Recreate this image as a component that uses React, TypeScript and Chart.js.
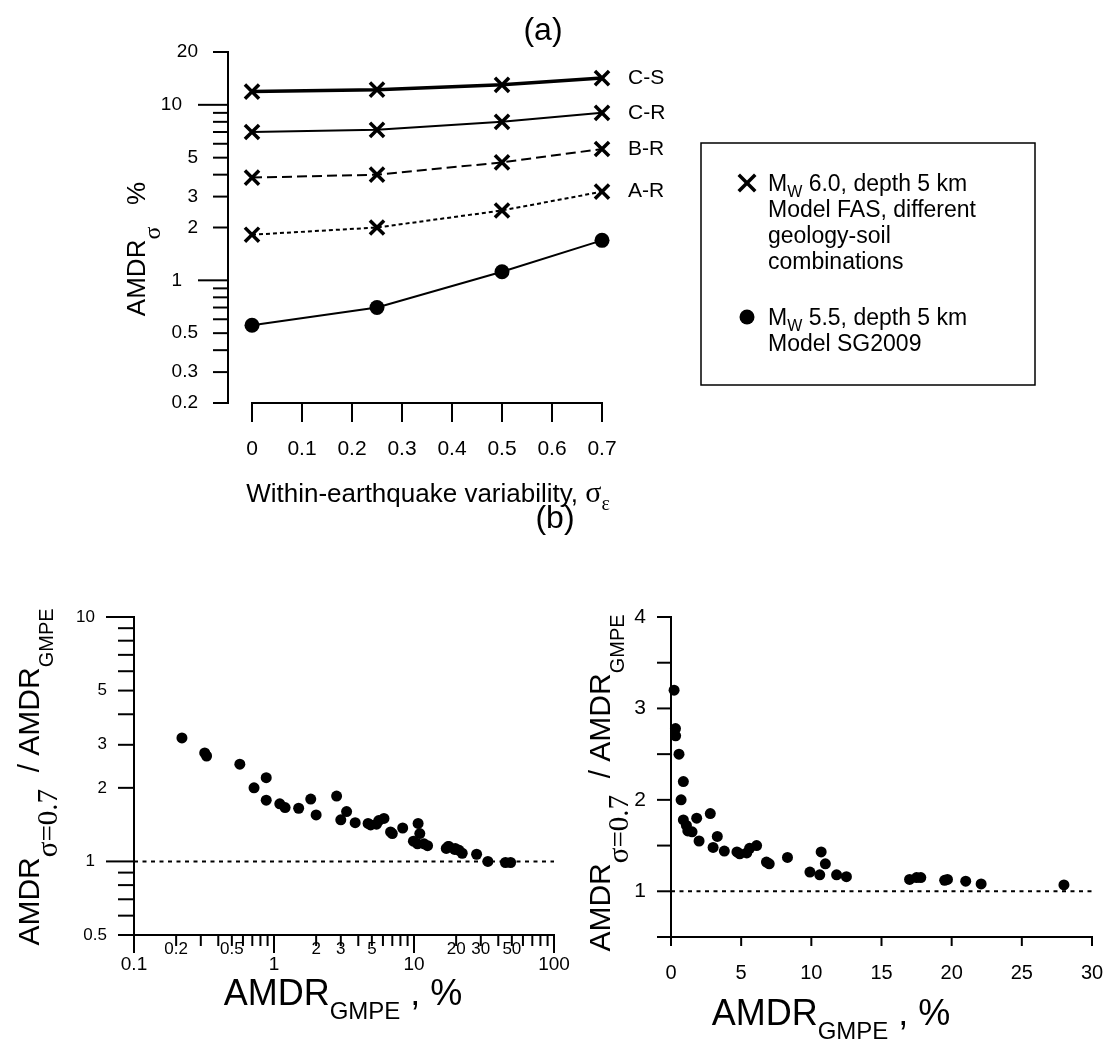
import React, { useEffect, useRef } from 'react';
import { Chart, registerables } from 'chart.js';
Chart.register(...registerables);

const W = 1109;
const H = 1061;

// ---------- Panel (a) data ----------
const sigmaValues = [0, 0.25, 0.5, 0.7];
const seriesCS = [11.9, 12.2, 13.0, 14.2];
const seriesCR = [7.0, 7.2, 8.0, 9.0];
const seriesBR = [3.85, 4.0, 4.7, 5.6];
const seriesAR = [1.82, 2.0, 2.5, 3.2];
const seriesSG = [0.555, 0.7, 1.12, 1.69];
const seriesNamesA = ['C-S', 'C-R', 'B-R', 'A-R'];
const aXTicks = [0, 0.1, 0.2, 0.3, 0.4, 0.5, 0.6, 0.7];
const aYTickMarks = [0.2, 0.3, 0.4, 0.5, 0.6, 0.7, 0.8, 0.9, 1, 2, 3, 4, 5, 6, 7, 8, 9, 10, 20];
const aYMajor = [1, 10];
const aYLabels = [0.2, 0.3, 0.5, 1, 2, 3, 5, 10, 20];
const legendA1 = ['Model FAS, different', 'geology-soil', 'combinations'];
const legendA2 = ['Model SG2009'];

// ---------- Panel (b) data ----------
const amdrGmpe = [0.22, 0.32, 0.33, 0.57, 0.72, 0.88, 0.88, 1.1, 1.2, 1.5, 1.83, 2.0, 2.8, 3.0, 3.3, 3.8, 4.7, 4.9, 5.4, 5.6, 6.1, 6.8, 7.0, 8.3, 9.9, 10.7, 11.0, 10.6, 11.8, 12.5, 17.0, 17.5, 17.8, 19.5, 19.7, 21.0, 22.1, 28.0, 33.7, 45, 49];
const amdrRatio = [3.2, 2.78, 2.7, 2.5, 2.0, 2.2, 1.78, 1.72, 1.66, 1.65, 1.8, 1.55, 1.85, 1.48, 1.6, 1.44, 1.43, 1.41, 1.42, 1.47, 1.5, 1.32, 1.3, 1.37, 1.21, 1.43, 1.3, 1.18, 1.18, 1.16, 1.13, 1.15, 1.15, 1.12, 1.13, 1.11, 1.08, 1.07, 1.0, 0.99, 0.99];
const refRatio = 1;
const b1XTickMarks = [0.1, 0.2, 0.3, 0.4, 0.5, 0.6, 0.7, 0.8, 0.9, 1, 2, 3, 4, 5, 6, 7, 8, 9, 10, 20, 30, 40, 50, 60, 70, 80, 90, 100];
const b1XMajor = [0.1, 1, 10, 100];
const b1XMinorLabels = [0.2, 0.5, 2, 3, 5, 20, 30, 50];
const b1YTickMarks = [0.5, 0.6, 0.7, 0.8, 0.9, 1, 2, 3, 4, 5, 6, 7, 8, 9, 10];
const b1YMajor = [1, 10];
const b1YLabels = [0.5, 1, 2, 3, 5, 10];
const b2XTicks = [0, 5, 10, 15, 20, 25, 30];
const b2YTickMarks = [0.5, 1, 1.5, 2, 2.5, 3, 3.5, 4];
const b2YLabels = [1, 2, 3, 4];

const SANS = '"Liberation Sans", Arial, sans-serif';
const SERIF = '"Liberation Serif", "Times New Roman", serif';

type Seg = { t: string; s: number; f?: string; dy?: number };

function fnt(s: Seg) {
  return `${s.s}px ${s.f || SANS}`;
}

function drawRich(ctx: CanvasRenderingContext2D, segs: Seg[], x: number, y: number, align: 'left' | 'center' | 'right' = 'center', rot = 0) {
  ctx.save();
  ctx.translate(x, y);
  if (rot) ctx.rotate(rot);
  ctx.textAlign = 'left';
  ctx.textBaseline = 'alphabetic';
  ctx.fillStyle = '#000';
  let w = 0;
  for (const s of segs) {
    ctx.font = fnt(s);
    w += ctx.measureText(s.t).width;
  }
  let cx = align === 'left' ? 0 : align === 'center' ? -w / 2 : -w;
  for (const s of segs) {
    ctx.font = fnt(s);
    ctx.fillText(s.t, cx, s.dy || 0);
    cx += ctx.measureText(s.t).width;
  }
  ctx.restore();
}

function seg(ctx: CanvasRenderingContext2D, x1: number, y1: number, x2: number, y2: number, w = 2) {
  ctx.save();
  ctx.beginPath();
  ctx.moveTo(x1, y1);
  ctx.lineTo(x2, y2);
  ctx.lineWidth = w;
  ctx.strokeStyle = '#000';
  ctx.lineCap = 'square';
  ctx.stroke();
  ctx.restore();
}

function txt(ctx: CanvasRenderingContext2D, t: string, x: number, y: number, size: number, align: CanvasTextAlign) {
  ctx.save();
  ctx.font = `${size}px ${SANS}`;
  ctx.fillStyle = '#000';
  ctx.textAlign = align;
  ctx.textBaseline = 'middle';
  ctx.fillText(t, x, y);
  ctx.restore();
}

function pad(l: number, r: number, t: number, b: number) {
  return { left: l, top: t, right: W - r, bottom: H - b };
}

const baseOpts = (padding: any, xs: any, ys: any) => ({
  responsive: false,
  animation: false as const,
  devicePixelRatio: 1,
  events: [] as any,
  layout: { padding },
  scales: { x: { ...xs, display: false }, y: { ...ys, display: false } },
  plugins: { legend: { display: false }, tooltip: { enabled: false }, title: { display: false } },
});

const pts = (xs: number[], ys: number[]) => xs.map((x, i) => ({ x, y: ys[i] }));

function configA(): any {
  const crossDs = (vals: number[], bw: number, dash: number[]) => ({
    data: pts(sigmaValues, vals),
    borderColor: '#000',
    borderWidth: bw,
    borderDash: dash,
    pointStyle: 'crossRot',
    pointRadius: 10,
    pointBorderWidth: 3.5,
    pointBorderColor: '#000',
    pointBackgroundColor: '#000',
    clip: false,
    tension: 0,
  });
  const plugin = {
    id: 'axesA',
    afterDraw(chart: any) {
      const { ctx, chartArea: ca, scales } = chart;
      const x = scales.x, y = scales.y;
      // y axis
      seg(ctx, ca.left, ca.top, ca.left, ca.bottom);
      for (const v of aYTickMarks) {
        const py = y.getPixelForValue(v);
        seg(ctx, ca.left - (aYMajor.includes(v) ? 29 : 14), py, ca.left, py);
      }
      for (const v of aYLabels) {
        txt(ctx, String(v), ca.left - (aYMajor.includes(v) ? 46 : 30), y.getPixelForValue(v), 19, 'right');
      }
      // x axis
      const x0 = x.getPixelForValue(aXTicks[0]);
      const x1 = x.getPixelForValue(aXTicks[aXTicks.length - 1]);
      seg(ctx, x0, ca.bottom, x1, ca.bottom);
      for (const v of aXTicks) {
        const px = x.getPixelForValue(v);
        seg(ctx, px, ca.bottom, px, ca.bottom + 18);
        txt(ctx, String(v), px, ca.bottom + 46, 21, 'center');
      }
      // series labels
      const lastVals = [seriesCS, seriesCR, seriesBR, seriesAR];
      const lx = x.getPixelForValue(sigmaValues[sigmaValues.length - 1]) + 26;
      seriesNamesA.forEach((n, i) => {
        const arr = lastVals[i];
        txt(ctx, n, lx, y.getPixelForValue(arr[arr.length - 1]), 21, 'left');
      });
      // legend box
      ctx.save();
      ctx.strokeStyle = '#000';
      ctx.lineWidth = 1.5;
      ctx.strokeRect(701, 143, 334, 242);
      ctx.restore();
      // legend markers
      const mx = 747;
      seg(ctx, mx - 7, 176, mx + 7, 190, 3.5);
      seg(ctx, mx - 7, 190, mx + 7, 176, 3.5);
      ctx.save();
      ctx.beginPath();
      ctx.arc(mx, 317, 7.5, 0, Math.PI * 2);
      ctx.fillStyle = '#000';
      ctx.fill();
      ctx.restore();
      const tx = 768;
      const fs = 23;
      const bl = (c: number) => c + 0.358 * fs;
      drawRich(ctx, [{ t: 'M', s: fs }, { t: 'W', s: 16, dy: 6 }, { t: ' 6.0, depth 5 km', s: fs }], tx, bl(183), 'left');
      legendA1.forEach((l, i) => drawRich(ctx, [{ t: l, s: fs }], tx, bl(209 + i * 26), 'left'));
      drawRich(ctx, [{ t: 'M', s: fs }, { t: 'W', s: 16, dy: 6 }, { t: ' 5.5, depth 5 km', s: fs }], tx, bl(317), 'left');
      legendA2.forEach((l, i) => drawRich(ctx, [{ t: l, s: fs }], tx, bl(343 + i * 26), 'left'));
      // titles
      drawRich(ctx, [{ t: '(a)', s: 32 }], 543, 40, 'center');
      drawRich(
        ctx,
        [{ t: 'AMDR', s: 26 }, { t: 'σ', s: 24, f: SERIF, dy: 15 }, { t: '   %', s: 26 }],
        136 + 0.358 * 26,
        249,
        'center',
        -Math.PI / 2
      );
      drawRich(
        ctx,
        [{ t: 'Within-earthquake variability, ', s: 26 }, { t: 'σ', s: 30, f: SERIF }, { t: 'ε', s: 20, f: SERIF, dy: 8 }],
        428,
        493 + 0.358 * 26,
        'center'
      );
    },
  };
  return {
    type: 'line',
    data: {
      datasets: [
        crossDs(seriesCS, 3.5, []),
        crossDs(seriesCR, 2, []),
        crossDs(seriesBR, 2, [10, 5]),
        crossDs(seriesAR, 2, [4, 3]),
        {
          data: pts(sigmaValues, seriesSG),
          borderColor: '#000',
          borderWidth: 2,
          pointStyle: 'circle',
          pointRadius: 7.5,
          pointBorderWidth: 0,
          pointBackgroundColor: '#000',
          clip: false,
          tension: 0,
        },
      ],
    },
    options: baseOpts(pad(228, 602, 52, 403), { type: 'linear', min: -0.048, max: 0.7 }, { type: 'logarithmic', min: 0.2, max: 20 }),
    plugins: [plugin],
  };
}

function yTitleB(ctx: CanvasRenderingContext2D, cx: number, cy: number) {
  drawRich(
    ctx,
    [
      { t: 'AMDR', s: 30 },
      { t: 'σ=0.7', s: 29, f: SERIF, dy: 18 },
      { t: '  / AMDR', s: 30 },
      { t: 'GMPE', s: 20, dy: 14 },
    ],
    cx + 0.358 * 30,
    cy,
    'center',
    -Math.PI / 2
  );
}

function xTitleB(ctx: CanvasRenderingContext2D, cx: number, cy: number) {
  drawRich(ctx, [{ t: 'AMDR', s: 36 }, { t: 'GMPE', s: 24, dy: 14 }, { t: ' , %', s: 36 }], cx, cy + 0.358 * 36, 'center');
}

function scatterDs(): any {
  return {
    type: 'scatter',
    data: pts(amdrGmpe, amdrRatio),
    pointStyle: 'circle',
    pointRadius: 5.5,
    pointBorderWidth: 0,
    pointBackgroundColor: '#000',
    borderColor: '#000',
    showLine: false,
  };
}

function refDs(x0: number, x1: number): any {
  return {
    type: 'line',
    data: [
      { x: x0, y: refRatio },
      { x: x1, y: refRatio },
    ],
    borderColor: '#000',
    borderWidth: 2,
    borderDash: [4, 4.5],
    pointRadius: 0,
    clip: false,
  };
}

function configB1(): any {
  const plugin = {
    id: 'axesB1',
    afterDraw(chart: any) {
      const { ctx, chartArea: ca, scales } = chart;
      const x = scales.x, y = scales.y;
      seg(ctx, ca.left, ca.top, ca.left, ca.bottom);
      for (const v of b1YTickMarks) {
        const py = y.getPixelForValue(v);
        seg(ctx, ca.left - (b1YMajor.includes(v) ? 27 : 15), py, ca.left, py);
      }
      for (const v of b1YLabels) {
        txt(ctx, String(v), ca.left - (b1YMajor.includes(v) ? 39 : 27), y.getPixelForValue(v), 17, 'right');
      }
      seg(ctx, ca.left, ca.bottom, ca.right, ca.bottom);
      for (const v of b1XTickMarks) {
        const px = x.getPixelForValue(v);
        seg(ctx, px, ca.bottom, px, ca.bottom + (b1XMajor.includes(v) ? 17 : 10));
      }
      for (const v of b1XMinorLabels) txt(ctx, String(v), x.getPixelForValue(v), ca.bottom + 14, 17, 'center');
      for (const v of b1XMajor) txt(ctx, String(v), x.getPixelForValue(v), ca.bottom + 30, 19, 'center');
      yTitleB(ctx, 28, 777);
      xTitleB(ctx, 343, 992);
      drawRich(ctx, [{ t: '(b)', s: 32 }], 555, 528, 'center');
    },
  };
  return {
    type: 'scatter',
    data: { datasets: [refDs(0.1, 100), { ...scatterDs(), clip: false }] },
    options: baseOpts(pad(134, 554, 617, 935), { type: 'logarithmic', min: 0.1, max: 100 }, { type: 'logarithmic', min: 0.5, max: 10 }),
    plugins: [plugin],
  };
}

function configB2(): any {
  const plugin = {
    id: 'axesB2',
    afterDraw(chart: any) {
      const { ctx, chartArea: ca, scales } = chart;
      const x = scales.x, y = scales.y;
      seg(ctx, ca.left, ca.top, ca.left, ca.bottom);
      for (const v of b2YTickMarks) {
        const py = y.getPixelForValue(v);
        seg(ctx, ca.left - 13, py, ca.left, py);
      }
      for (const v of b2YLabels) txt(ctx, String(v), ca.left - 25, y.getPixelForValue(v), 21, 'right');
      seg(ctx, ca.left, ca.bottom, ca.right, ca.bottom);
      for (const v of b2XTicks) {
        const px = x.getPixelForValue(v);
        seg(ctx, px, ca.bottom, px, ca.bottom + 8);
        txt(ctx, String(v), px, ca.bottom + 36, 20, 'center');
      }
      yTitleB(ctx, 599, 783);
      xTitleB(ctx, 831, 1012);
    },
  };
  return {
    type: 'scatter',
    data: {
      datasets: [refDs(0, 30), { ...scatterDs(), clip: { left: 10, top: 10, right: 0, bottom: 10 } }],
    },
    options: baseOpts(pad(671, 1092, 617, 937), { type: 'linear', min: 0, max: 30 }, { type: 'linear', min: 0.5, max: 4 }),
    plugins: [plugin],
  };
}

export default function App() {
  const refA = useRef<HTMLCanvasElement>(null);
  const refB1 = useRef<HTMLCanvasElement>(null);
  const refB2 = useRef<HTMLCanvasElement>(null);
  useEffect(() => {
    const charts = [
      new Chart(refA.current as HTMLCanvasElement, configA()),
      new Chart(refB1.current as HTMLCanvasElement, configB1()),
      new Chart(refB2.current as HTMLCanvasElement, configB2()),
    ];
    return () => charts.forEach((c) => c.destroy());
  }, []);
  const cs: React.CSSProperties = { position: 'absolute', left: 0, top: 0, width: W, height: H };
  return (
    <div style={{ position: 'absolute', left: 0, top: 0, width: W, height: H, background: '#fff' }}>
      <canvas ref={refA} width={W} height={H} style={cs} />
      <canvas ref={refB1} width={W} height={H} style={cs} />
      <canvas ref={refB2} width={W} height={H} style={cs} />
    </div>
  );
}
